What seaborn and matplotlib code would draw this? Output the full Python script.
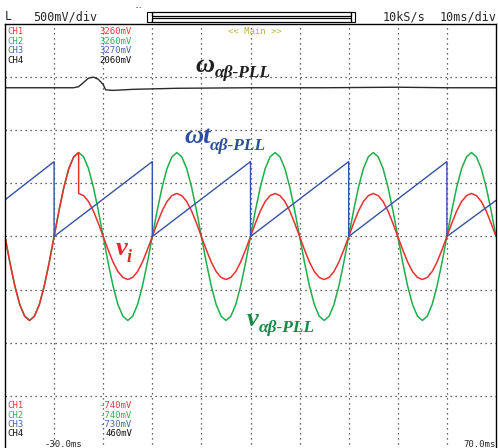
import numpy as np
import pandas as pd
import seaborn as sns
import matplotlib.pyplot as plt
from matplotlib.patches import Rectangle

# ---- values (x in ms, y in divisions from centre) ----
time_ms = np.arange(-30, 71, 1)

# CH2: v_ab-PLL, 50 Hz, ~1.58 div peak
v_pll = [0, -0.49, -0.93, -1.28, -1.50, -1.58, -1.50, -1.28, -0.93, -0.49,
         0, 0.49, 0.93, 1.28, 1.50, 1.58, 1.50, 1.28, 0.93, 0.49,
         0, -0.49, -0.93, -1.28, -1.50, -1.58, -1.50, -1.28, -0.93, -0.49,
         0, 0.49, 0.93, 1.28, 1.50, 1.58, 1.50, 1.28, 0.93, 0.49,
         0, -0.49, -0.93, -1.28, -1.50, -1.58, -1.50, -1.28, -0.93, -0.49,
         0, 0.49, 0.93, 1.28, 1.50, 1.58, 1.50, 1.28, 0.93, 0.49,
         0, -0.49, -0.93, -1.28, -1.50, -1.58, -1.50, -1.28, -0.93, -0.49,
         0, 0.49, 0.93, 1.28, 1.50, 1.58, 1.50, 1.28, 0.93, 0.49,
         0, -0.49, -0.93, -1.28, -1.50, -1.58, -1.50, -1.28, -0.93, -0.49,
         0, 0.49, 0.93, 1.28, 1.50, 1.58, 1.50, 1.28, 0.93, 0.49,
         0]

# CH1: v_i, full amplitude until the sag at -15 ms, then about half
vi_time_before = np.arange(-30, -14, 1)
vi_before = [0, -0.49, -0.93, -1.28, -1.50, -1.58, -1.50, -1.28, -0.93, -0.49,
             0, 0.49, 0.93, 1.28, 1.50, 1.58]
vi_time_after = np.arange(-15, 71, 1)
vi_after = [0.81, 0.77, 0.66, 0.48, 0.25,
            0, -0.25, -0.48, -0.66, -0.77, -0.81, -0.77, -0.66, -0.48, -0.25,
            0, 0.25, 0.48, 0.66, 0.77, 0.81, 0.77, 0.66, 0.48, 0.25,
            0, -0.25, -0.48, -0.66, -0.77, -0.81, -0.77, -0.66, -0.48, -0.25,
            0, 0.25, 0.48, 0.66, 0.77, 0.81, 0.77, 0.66, 0.48, 0.25,
            0, -0.25, -0.48, -0.66, -0.77, -0.81, -0.77, -0.66, -0.48, -0.25,
            0, 0.25, 0.48, 0.66, 0.77, 0.81, 0.77, 0.66, 0.48, 0.25,
            0, -0.25, -0.48, -0.66, -0.77, -0.81, -0.77, -0.66, -0.48, -0.25,
            0, 0.25, 0.48, 0.66, 0.77, 0.81, 0.77, 0.66, 0.48, 0.25,
            0]

# CH3: wt_ab-PLL sawtooth corners
wt_time = [-30, -20, -20, 0, 0, 20, 20, 40, 40, 60, 60, 70]
wt_val = [0.69, 1.41, 0.0, 1.41, 0.0, 1.41, 0.0, 1.41, 0.0, 1.41, 0.0, 0.68]

# CH4: w_ab-PLL, flat with a small bump at the sag
w_time = [-30, -22, -16, -15, -14, -13, -12, -11, -10, -9.5, -8, -4, 5, 20, 35, 50, 60, 70]
w_val = [2.80, 2.80, 2.80, 2.82, 2.90, 2.98, 3.00, 2.96, 2.86, 2.76, 2.75, 2.77, 2.79, 2.80, 2.80, 2.81, 2.80, 2.80]

ch_names = ["CH1", "CH2", "CH3", "CH4"]
ch_top = ["3260mV", "3260mV", "3270mV", "2060mV"]
ch_bottom = ["-740mV", "-740mV", "-730mV", "460mV"]
ch_colors = ["#ee3b3b", "#2db553", "#4a64b4", "#111111"]

red = "#e8302f"
green = "#1fae4c"
blue = "#3552a6"
black = "#2a2a2a"

sns.set_style("white")
plt.rcParams["font.family"] = ["DejaVu Sans Mono", "DejaVu Sans"]

fig = plt.figure(figsize=(4.98, 4.48), dpi=100)
ax = fig.add_axes([5 / 498, -1 / 448, 491 / 498, 425 / 448])

red_df = pd.DataFrame({"t": np.concatenate([vi_time_before, vi_time_after]),
                       "v": vi_before + vi_after})
sns.lineplot(x=time_ms, y=v_pll, ax=ax, color=green, lw=1.1, estimator=None, sort=False)
sns.lineplot(data=red_df, x="t", y="v", ax=ax, color=red, lw=1.1, estimator=None, sort=False)
sns.lineplot(x=wt_time, y=wt_val, ax=ax, color=blue, lw=1.0, estimator=None, sort=False)
sns.lineplot(x=w_time, y=w_val, ax=ax, color=black, lw=1.0, estimator=None, sort=False)

ax.set_xlim(-30, 70)
ax.set_ylim(-4, 4)
ax.set_xticks(range(-20, 61, 10))
ax.set_yticks(range(-3, 4))
ax.set_xticklabels([])
ax.set_yticklabels([])
ax.tick_params(length=0)
ax.set_xlabel("")
ax.set_ylabel("")
ax.grid(True, color="#333333", linestyle=(0, (1, 3)), linewidth=0.9)
for side in ["left", "top", "right"]:
    ax.spines[side].set_color("black")
    ax.spines[side].set_linewidth(1.0)
ax.spines["bottom"].set_visible(False)

# overlay in pixel coordinates for the screen text
ov = fig.add_axes([0, 0, 1, 1])
ov.set_xlim(0, 498)
ov.set_ylim(448, 0)
ov.axis("off")
ov.patch.set_alpha(0)

ov.text(5, 20, "L", fontsize=8.5, ha="left", va="baseline")
ov.text(33, 20, "500mV/div", fontsize=8.5, ha="left", va="baseline")
ov.text(425, 20, "10kS/s", fontsize=8.5, ha="right", va="baseline")
ov.text(497, 20, "10ms/div", fontsize=8.5, ha="right", va="baseline")
ov.text(135, 9, "--", fontsize=5, ha="left", va="baseline")
for x0, w in [(147, 5), (351, 4)]:
    ov.add_patch(Rectangle((x0, 12), w, 10, fill=False, ec="black", lw=0.8))
ov.add_patch(Rectangle((152, 12.5), 199, 4, fill=False, ec="black", lw=0.9))
ov.add_patch(Rectangle((152, 18), 199, 4, fill=False, ec="black", lw=0.9))

ov.text(255, 34, "<< Main >>", fontsize=6.5, color="#b9b63c", ha="center", va="baseline")
for i, (name, top, bot, col) in enumerate(zip(ch_names, ch_top, ch_bottom, ch_colors)):
    ov.text(7, 34 + 9.7 * i, name, fontsize=6.5, color=col, ha="left", va="baseline")
    ov.text(132, 34 + 9.7 * i, top, fontsize=6.5, color=col, ha="right", va="baseline")
    ov.text(7, 408 + 9.5 * i, name, fontsize=6.5, color=col, ha="left", va="baseline")
    ov.text(132, 408 + 9.5 * i, bot, fontsize=6.5, color=col, ha="right", va="baseline")
ov.text(82, 447, "-30.0ms", fontsize=6.5, ha="right", va="baseline")
ov.text(496, 447, "70.0ms", fontsize=6.5, ha="right", va="baseline")

# trace labels
serif = dict(family=["Liberation Serif", "DejaVu Serif"], weight="bold", style="italic")
ov.text(195, 72, "ω", fontsize=19, color="#1e1e1e", va="baseline", **serif)
ov.text(215, 77, "αβ-PLL", fontsize=12.5, color="#1e1e1e", va="baseline", **serif)
ov.text(184, 143, "ωt", fontsize=19, color="#2c4f9c", va="baseline", **serif)
ov.text(210, 150, "αβ-PLL", fontsize=12.5, color="#2c4f9c", va="baseline", **serif)
ov.text(116, 255, "v", fontsize=19, color="#e6262a", va="baseline", **serif)
ov.text(127, 262, "i", fontsize=13, color="#e6262a", va="baseline", **serif)
ov.text(247, 326, "v", fontsize=19, color="#178a47", va="baseline", **serif)
ov.text(259, 332, "αβ-PLL", fontsize=12.5, color="#178a47", va="baseline", **serif)

fig.savefig("out.png", dpi=100)
